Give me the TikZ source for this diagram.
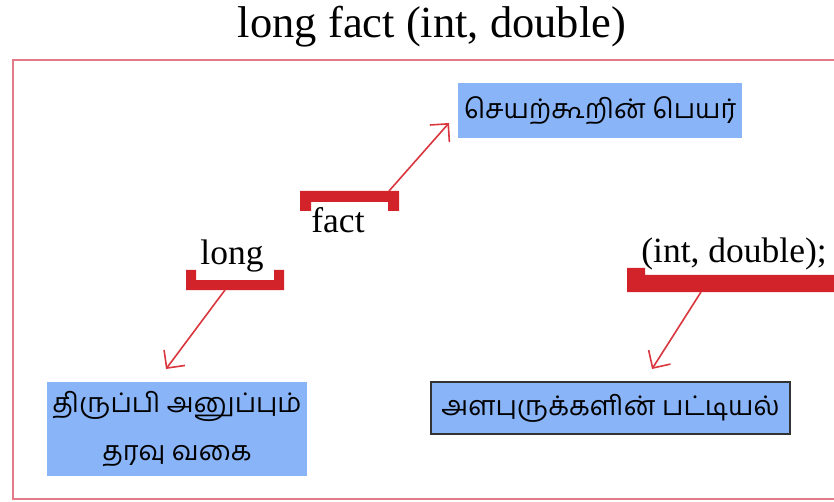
\documentclass[tikz,border=0pt]{standalone}
\usepackage{fontspec}
\setmainfont{Liberation Serif}
\newfontfamily\tamil[Script=Tamil]{Hind Madurai}
\usetikzlibrary{arrows.meta}
\definecolor{brk}{HTML}{D2232A}
\definecolor{linkred}{HTML}{D9363E}
\definecolor{boxblue}{HTML}{8AB4F8}
\definecolor{framepink}{HTML}{E27A87}
\begin{document}
\begin{tikzpicture}[x=1pt,y=-1pt,
  tbox/.style={fill=boxblue, inner sep=0pt, align=center, font=\tamil\fontsize{27}{48}\selectfont},
  code/.style={inner sep=0pt, anchor=base, font=\fontsize{35.5}{40}\selectfont},
  link/.style={draw=linkred, line width=1.6pt, -{Straight Barb[length=13pt,width=26pt,line width=1.6pt]}},
  bracket/.style={fill=brk}]
\clip (0,0) rectangle (834,502);
\useasboundingbox (0,0) rectangle (834,502);

% title and frame
\node[code, font=\fontsize{44.5}{50}\selectfont] (title) at (432,38) {long fact (int, double)};
\draw[framepink, line width=1.3pt] (13,60) rectangle (900,499);

% braces under / over the parts of the declaration
\fill[bracket] (300,191) -- (399,191) -- (399,211) -- (388,211) -- (388,202)
  -- (311,202) -- (311,211) -- (300,211) -- cycle;
\fill[bracket] (186,290) -- (284,290) -- (284,270) -- (274,270) -- (274,280)
  -- (196,280) -- (196,270) -- (186,270) -- cycle;
\fill[bracket] (627,292) -- (900,292) -- (900,268) -- (840,268) -- (840,275)
  -- (645,275) -- (645,268) -- (627,268) -- cycle;

\node[code] (fact) at (338,233) {fact};
\node[code] (long) at (232,265) {long};
\node[code] (params) at (734,262) {(int, double);};

% explanation boxes
\node[tbox, minimum width=284pt, minimum height=55pt] (fname) at (600,110.5)
  {செயற்கூறின் பெயர்};
\node[tbox, minimum width=260pt, minimum height=94pt] (rtype) at (177,429)
  {திருப்பி அனுப்பும்\\தரவு வகை};
\node[tbox, draw=black!80, line width=1.2pt, minimum width=359pt, minimum height=52pt]
  (plist) at (610.5,408) {அளபுருக்களின் பட்டியல்};

% connector ends
\coordinate (factarm) at (389,191);
\coordinate (longarm) at (225,290);
\coordinate (paramarm) at (701,292);
\coordinate (fnametip) at (449,123);
\coordinate (rtypetip) at (166,369);
\coordinate (plisttip) at (652,369);

\draw[link] (factarm) -- (fnametip);
\draw[link] (longarm) -- (rtypetip);
\draw[link] (paramarm) -- (plisttip);
\end{tikzpicture}
\end{document}
